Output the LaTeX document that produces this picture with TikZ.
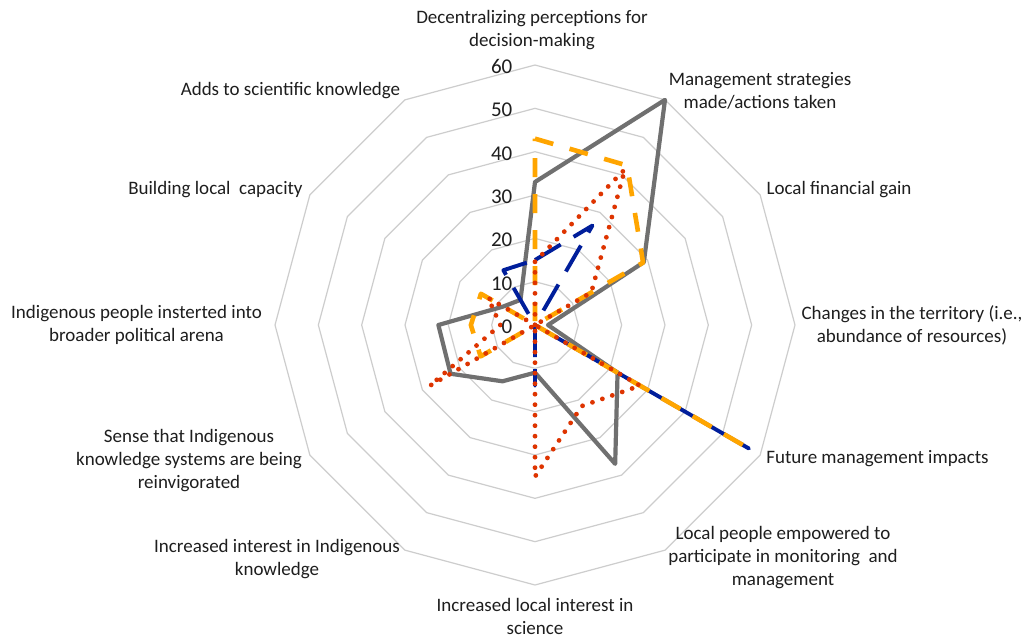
\documentclass[tikz,border=0pt]{standalone}
\usepackage{fontspec}
\setmainfont{Carlito}
\definecolor{gridc}{RGB}{205,205,205}
\definecolor{greyS}{RGB}{112,112,112}
\definecolor{blueS}{RGB}{0,30,155}
\definecolor{orangeS}{RGB}{255,165,0}
\definecolor{redS}{RGB}{222,52,0}
\definecolor{txt}{RGB}{30,30,30}
\begin{document}
\begin{tikzpicture}[x=1pt,y=1pt,
  gridline/.style={draw=gridc,line width=1.2pt},
  greyline/.style={draw=greyS,line width=4.2pt,line join=round},
  blueline/.style={draw=blueS,line width=3.9pt,dash pattern=on 30pt off 15pt,line join=round},
  orangeline/.style={draw=orangeS,line width=4.6pt,dash pattern=on 19pt off 17pt,line join=round},
  redline/.style={draw=redS,line width=4.8pt,dash pattern=on 0pt off 10.5pt,line cap=round},
  numlab/.style={anchor=east,inner sep=0pt,text=txt,font=\fontsize{21}{25}\selectfont},
  axlab/.style={align=center,inner sep=0pt,text=txt,font=\fontsize{19}{23}\selectfont}]
\fill[white] (0,0) rectangle (1023,-638);
\useasboundingbox (0,0) rectangle (1023,-638);
\begin{scope}[shift={(535,-325)},x=4.3333pt,y=4.3333pt]
  \foreach \r in {10,20,...,60}{
    \draw[gridline] (90:\r) -- (60:\r) -- (30:\r) -- (0:\r) -- (-30:\r) -- (-60:\r) -- (-90:\r) -- (-120:\r) -- (-150:\r) -- (180:\r) -- (150:\r) -- (120:\r) -- cycle;
  }
  % grey series
  \draw[greyline] (90:33) -- (60:60) -- (30:29) -- (0:3) -- (-30:22) -- (-60:37) -- (-90:11) -- (-120:15) -- (-150:22.5) -- (180:22.3) -- (150:8.5) -- (120:6.7) -- cycle;
  % blue series
  \draw[blueline] (90:15) -- (60:26.5) -- (30:0) -- (0:0) -- (-30:57) -- (-60:0) -- (-90:14) -- (-120:0) -- (-150:0) -- (180:0) -- (150:0) -- (120:14.6) -- cycle;
  % orange series
  \draw[orangeline] (90:43) -- (60:42.5) -- (30:28.8) -- (0:0) -- (-30:57) -- (-60:0) -- (-90:0) -- (-120:0) -- (-150:14.5) -- (180:14.8) -- (150:14.4) -- (120:0) -- cycle;
  % red series
  \draw[redline] (90:14.6) -- (60:41.5) -- (30:15) -- (0:0) -- (-30:28) -- (-60:21.6) -- (-90:35) -- (-120:0) -- (-150:28) -- (180:8) -- (150:12.5) -- (120:0) -- cycle;
\end{scope}
% scale labels
\node[numlab] (n0) at (512.5,-326.6) {0};
\node[numlab] (n10) at (512.5,-283.3) {10};
\node[numlab] (n20) at (512.5,-240) {20};
\node[numlab] (n30) at (512.5,-196.6) {30};
\node[numlab] (n40) at (512.5,-153.3) {40};
\node[numlab] (n50) at (512.5,-110) {50};
\node[numlab] (n60) at (512.5,-66.6) {60};
% axis labels
\node[axlab] (l0) at (532,-30.5) {Decentralizing perceptions for\\decision-making};
\node[axlab] (l1) at (760,-91) {Management strategies\\made/actions taken};
\node[axlab] (l2) at (839,-190) {Local financial gain};
\node[axlab] (l3) at (912,-325) {Changes in the territory (i.e.,\\abundance of resources)};
\node[axlab] (l4) at (877.5,-459) {Future management impacts};
\node[axlab] (l5) at (783,-558) {Local people empowered to\\participate in monitoring~ and\\management};
\node[axlab] (l6) at (535,-616.5) {Increased local interest in\\science};
\node[axlab] (l7) at (277,-559) {Increased interest in Indigenous\\knowledge};
\node[axlab] (l8) at (189,-460.5) {Sense that Indigenous\\knowledge systems are being\\reinvigorated};
\node[axlab] (l9) at (136.5,-324.5) {Indigenous people insterted into\\broader political arena};
\node[axlab] (l10) at (215.5,-190) {Building local~ capacity};
\node[axlab] (l11) at (290.5,-91) {Adds to scientific knowledge};
\end{tikzpicture}
\end{document}
